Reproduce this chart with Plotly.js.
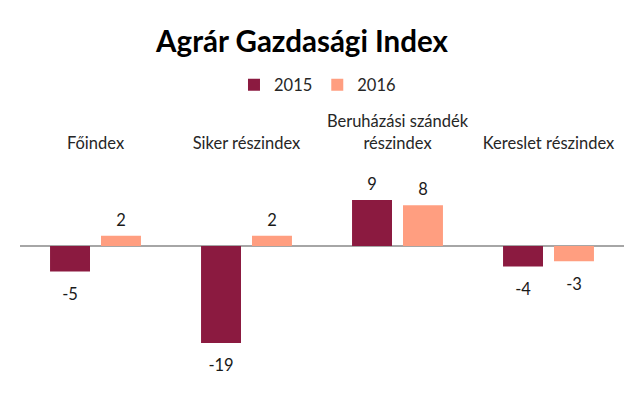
<!DOCTYPE html>
<html>
<head>
<meta charset="utf-8">
<script src="https://cdn.plot.ly/plotly-3.0.1.min.js"></script>
<style>html,body{margin:0;padding:0;background:#fff;}#chart{width:644px;height:395px;}</style>
</head>
<body>
<div id="chart"></div>
<script>
const categories = ["Főindex", "Siker részindex", "Beruházási szándék<br>részindex", "Kereslet részindex"];
const seriesNames = ["2015", "2016"];
const values2015 = [-5, -19, 9, -4];
const values2016 = [2, 2, 8, -3];
const colors = ["#8B1A40", "#FF9E80"];

const FONT = "Lato, 'Open Sans', sans-serif";
const allValues = [values2015, values2016];

const bars = allValues.map((vals, i) => ({
  type: "bar",
  name: seriesNames[i],
  x: categories,
  y: vals,
  offsetgroup: String(i),
  marker: {color: colors[i]},
  hoverinfo: "x+y+name"
}));

const labels = allValues.map((vals, i) => ({
  type: "scatter",
  mode: "markers+text",
  x: categories,
  y: vals,
  offsetgroup: String(i),
  text: vals.map(v => String(v)),
  textposition: vals.map(v => v >= 0 ? "top center" : "bottom center"),
  textfont: {family: FONT, size: 16.5, color: "#1a1a1a"},
  marker: {size: vals.map(v => v >= 0 ? 8 : 24), opacity: 0},
  cliponaxis: false,
  showlegend: false,
  hoverinfo: "skip"
}));

const layout = {
  width: 644, height: 395,
  margin: {l: 20, r: 20, t: 160, b: 15},
  paper_bgcolor: "#fff", plot_bgcolor: "#fff",
  font: {family: FONT, size: 16.5, color: "#262626"},
  title: {text: "<b>Agrár Gazdasági Index</b>", font: {family: FONT, size: 29.5, color: "#000"},
          x: 0.469, xref: "container", xanchor: "center", y: 0.894, yref: "container", yanchor: "middle"},
  barmode: "group", bargap: 0.325, bargroupgap: 0.216,
  scattermode: "group", scattergap: 0.325,
  showlegend: true,
  legend: {orientation: "h", xref: "container", x: 0.493, xanchor: "center", yref: "container", y: 0.785, yanchor: "middle",
           font: {family: FONT, size: 16.5, color: "#262626"}, itemwidth: 30, traceorder: "normal"},
  xaxis: {side: "top", showline: false, showgrid: false, ticks: "", ticklabelstandoff: 7,
          tickfont: {family: FONT, size: 16.5, color: "#262626"}, fixedrange: true},
  yaxis: {range: [-26.27, 16.86], showgrid: false, showticklabels: false, ticks: "", showline: false,
          zeroline: true, zerolinecolor: "#a6a6a6", zerolinewidth: 1.3, fixedrange: true}
};

Plotly.newPlot("chart", bars.concat(labels), layout, {displayModeBar: false, staticPlot: true});
</script>
</body>
</html>
